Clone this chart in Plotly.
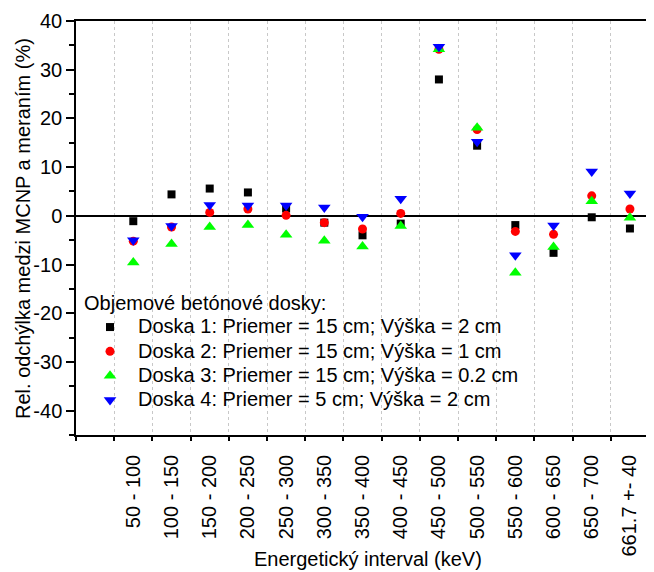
import plotly.graph_objects as go

categories = ["50 - 100", "100 - 150", "150 - 200", "200 - 250", "250 - 300",
              "300 - 350", "350 - 400", "400 - 450", "450 - 500", "500 - 550",
              "550 - 600", "600 - 650", "650 - 700", "661.7 +- 40"]

doska1 = [-1.1, 4.4, 5.6, 4.8, 1.5, -1.4, -4.0, -1.6, 28.0, 14.4, -1.9, -7.6, -0.3, -2.6]
doska2 = [-5.2, -2.3, 0.7, 1.4, 0.1, -1.4, -2.7, 0.5, 34.2, 17.7, -3.2, -3.8, 4.1, 1.4]
doska3 = [-9.6, -5.8, -2.3, -1.9, -3.9, -5.1, -6.3, -2.1, 34.2, 18.1, -11.7, -6.4, 3.0, -0.4]
doska4 = [-5.0, -2.1, 2.2, 2.1, 2.1, 1.7, -0.2, 3.5, 34.7, 15.2, -8.1, -2.0, 9.1, 4.6]

y_tick_values = [-40, -30, -20, -10, 0, 10, 20, 30, 40]
y_tick_labels = ["-40", "-30", "-20", "-10", "0", "10", "20", "30", "40"]

series_names = ["Doska 1: Priemer = 15 cm; Výška = 2 cm",
                "Doska 2: Priemer = 15 cm; Výška = 1 cm",
                "Doska 3: Priemer = 15 cm; Výška = 0.2 cm",
                "Doska 4: Priemer = 5 cm; Výška = 2 cm"]
series_values = [doska1, doska2, doska3, doska4]
symbols = ["square", "circle", "triangle-up", "triangle-down"]
colors = ["#000000", "#ff0000", "#00ff00", "#0000ff"]
sizes = [8, 9, 11, 11]

legend_title = "Objemové betónové dosky:"
x_title = "Energetický interval (keV)"
y_title = "Rel. odchýlka medzi MCNP a meraním (%)"

FONT = "Liberation Sans, Arial, sans-serif"
x_pos = list(range(len(categories)))

fig = go.Figure()
for name, vals, sym, col, sz in zip(series_names, series_values, symbols, colors, sizes):
    fig.add_trace(go.Scatter(
        x=x_pos, y=vals, mode="markers",
        name='<span style="font-size:20px">' + name + '</span>',
        marker=dict(symbol=sym, color=col, size=sz, line=dict(width=0)),
    ))

# the page body adds an 8px offset, so the figure is 8px smaller than the window
fig.update_layout(
    width=646, height=564,
    margin=dict(l=68, r=0, t=13, b=137),
    paper_bgcolor="white", plot_bgcolor="white",
    font=dict(family=FONT, size=20, color="black"),
    showlegend=True,
    legend=dict(
        title=dict(text=legend_title, font=dict(size=20)),
        x=0.0104, y=0.365, xanchor="left", yanchor="top",
        bgcolor="rgba(0,0,0,0)", font=dict(size=16.4),
        itemwidth=46, tracegroupgap=0,
    ),
    xaxis=dict(
        range=[-1.5, 13.63], automargin=False,
        tickmode="array", tickvals=x_pos, ticktext=categories,
        tickangle=-90, ticks="", showgrid=False, zeroline=False,
        showline=True, linecolor="black", linewidth=1.5, mirror=True,
        tickfont=dict(size=20), ticklabelstandoff=10,
        minor=dict(tick0=0.5, dtick=1, ticks="outside", ticklen=4,
                   tickcolor="black", tickwidth=1.5,
                   showgrid=True, gridcolor="#c8c8c8", griddash="dot", gridwidth=1),
    ),
    yaxis=dict(
        range=[-45, 40], automargin=False,
        tickmode="array", tickvals=y_tick_values, ticktext=y_tick_labels,
        ticks="outside", ticklen=8, tickwidth=1.5, tickcolor="black",
        showgrid=False, zeroline=True, zerolinecolor="black", zerolinewidth=1.5,
        showline=True, linecolor="black", linewidth=1.5, mirror=False,
        tickfont=dict(size=20),
        minor=dict(tickmode="linear", dtick=5, tick0=0, ticks="outside", ticklen=5,
                   tickcolor="black", tickwidth=1.5, showgrid=False),
    ),
    annotations=[
        dict(text=x_title, xref="paper", yref="paper", x=0.505, y=-0.268,
             xanchor="center", yanchor="top", showarrow=False,
             font=dict(size=20, family=FONT)),
        dict(text=y_title, xref="paper", yref="paper", x=-0.0917, y=0.5,
             xanchor="center", yanchor="middle", textangle=-90, showarrow=False,
             font=dict(size=20, family=FONT)),
    ],
)

fig.write_html("out.html")
